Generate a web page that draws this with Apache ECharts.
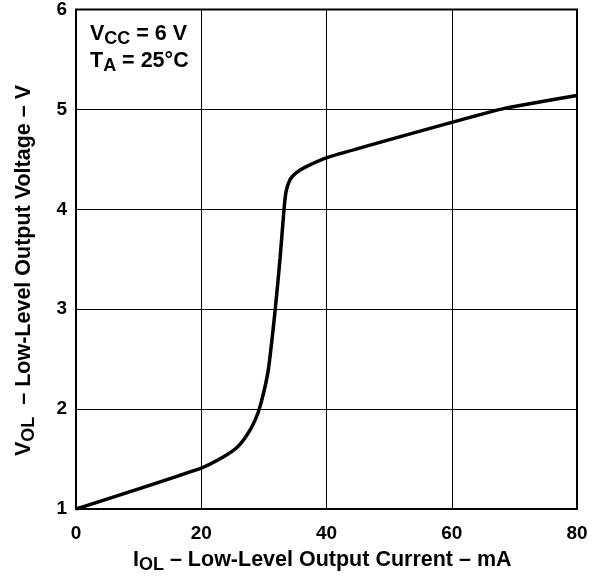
<!DOCTYPE html>
<html>
<head>
<meta charset="utf-8">
<script src="https://cdn.jsdelivr.net/npm/echarts@6/dist/echarts.min.js"></script>
<style>
  html, body { margin: 0; padding: 0; background: #fff; }
  #chart { width: 594px; height: 578px; }
</style>
</head>
<body>
<div id="chart"></div>
<script>
// output current (mA) and output voltage (V)
const currentMA = [0, 20, 23.5, 25.7, 27.3, 28.6, 29.5, 30.7, 31.8, 32.6, 33.2, 33.55, 34.2, 35.25, 36.85, 40.2, 60.3, 68.4, 80];
const voltageV  = [1.0, 1.41, 1.52, 1.615, 1.74, 1.89, 2.05, 2.39, 2.99, 3.52, 3.99, 4.18, 4.30, 4.37, 4.43, 4.52, 4.875, 5.01, 5.14];

const xTicks = [0, 20, 40, 60, 80];
const yTicks = [1, 2, 3, 4, 5, 6];

const font = '"Liberation Sans", Arial, sans-serif';
const chart = echarts.init(document.getElementById('chart'));

const big = { fontFamily: font, fontWeight: 'bold', fontSize: 21.5, fill: '#000' };
const sub = { fontFamily: font, fontWeight: 'bold', fontSize: 18, fill: '#000', padding: [10, 0, 0, 0] };

chart.setOption({
  animation: false,
  grid: {
    left: 76, right: 17, top: 8, bottom: 69,
    show: true, borderColor: '#000', borderWidth: 2
  },
  xAxis: {
    type: 'value',
    min: xTicks[0], max: xTicks[xTicks.length - 1], interval: 20,
    axisLine: { show: false },
    axisTick: { show: false },
    splitLine: { lineStyle: { color: '#000', width: 1 } },
    axisLabel: { color: '#000', fontFamily: font, fontWeight: 'bold', fontSize: 19, margin: 15 }
  },
  yAxis: {
    type: 'value',
    min: yTicks[0], max: yTicks[yTicks.length - 1], interval: 1,
    axisLine: { show: false },
    axisTick: { show: false },
    splitLine: { lineStyle: { color: '#000', width: 1 } },
    axisLabel: { color: '#000', fontFamily: font, fontWeight: 'bold', fontSize: 19, margin: 9 }
  },
  series: [{
    type: 'line',
    data: currentMA.map((x, i) => [x, voltageV[i]]),
    smooth: 0.2,
    showSymbol: false,
    lineStyle: { color: '#000', width: 3.5 }
  }],
  graphic: [
    {
      type: 'text', left: 90, top: 20,
      style: {
        text: '{b|V}{s|CC}{b| = 6 V}\n{b|T}{s|A}{b| = 25°C}',
        rich: {
          b: Object.assign({ lineHeight: 27 }, big),
          s: Object.assign({ lineHeight: 27 }, sub)
        }
      }
    },
    {
      type: 'text', left: 133, top: 549,
      style: {
        text: '{b|I}{s|OL}{b| – Low-Level Output Current – mA}',
        rich: { b: big, s: sub }
      }
    },
    {
      type: 'text', x: 10, y: 456, rotation: Math.PI / 2,
      style: {
        text: '{b|V}{s|OL}{b|  – Low-Level Output Voltage – V}',
        rich: { b: big, s: sub }
      }
    }
  ]
});
</script>
</body>
</html>
